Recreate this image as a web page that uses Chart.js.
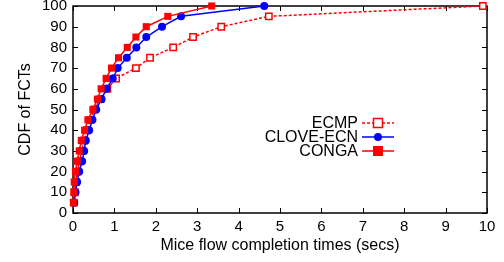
<!DOCTYPE html>
<html>
<head>
<meta charset="utf-8">
<script src="https://cdn.jsdelivr.net/npm/chart.js@4.4.1/dist/chart.umd.min.js"></script>
<style>
  html, body { margin: 0; padding: 0; background: #fff; }
  #wrap { width: 504px; height: 262px; }
</style>
</head>
<body>
<div id="wrap"><canvas id="chart" width="504" height="262"></canvas></div>
<script>
// CDF levels (percent) shared by all three series
const cdfLevels = [5, 10, 15, 20, 25, 30, 35, 40, 45, 50, 55, 60, 65, 70, 75, 80, 85, 90, 95, 100];

// completion times (secs)
const ecmpTimes  = [0.02, 0.04, 0.07, 0.11, 0.16, 0.21, 0.27, 0.34, 0.42, 0.52, 0.66, 0.83, 1.04, 1.52, 1.86, 2.42, 2.90, 3.58, 4.73, 9.90];
const cloveTimes = [0.03, 0.06, 0.10, 0.15, 0.22, 0.27, 0.31, 0.39, 0.47, 0.56, 0.69, 0.81, 0.96, 1.08, 1.30, 1.53, 1.77, 2.15, 2.61, 4.62];
const congaTimes = [0.01, 0.02, 0.03, 0.06, 0.10, 0.15, 0.20, 0.28, 0.36, 0.48, 0.59, 0.68, 0.80, 0.93, 1.10, 1.31, 1.52, 1.77, 2.29, 3.35];

const xTicks = [0, 1, 2, 3, 4, 5, 6, 7, 8, 9, 10];
const yTicks = [0, 10, 20, 30, 40, 50, 60, 70, 80, 90, 100];

const FONT = '"Liberation Sans", Arial, sans-serif';

function pairs(xs) {
    return xs.map((x, i) => ({ x: x, y: cdfLevels[i] }));
}

// box round the plot with inward ticks on all four sides
const frame = {
    id: 'frame',
    beforeDatasetsDraw(chart) {
        const { ctx, chartArea: a, scales } = chart;
        ctx.save();
        ctx.strokeStyle = '#000';
        ctx.lineWidth = 1;
        ctx.beginPath();
        xTicks.forEach(v => {
            const px = Math.round(scales.x.getPixelForValue(v)) + 0.5;
            ctx.moveTo(px, a.bottom); ctx.lineTo(px, a.bottom - 5);
            ctx.moveTo(px, a.top); ctx.lineTo(px, a.top + 5);
        });
        yTicks.forEach(v => {
            const py = Math.round(scales.y.getPixelForValue(v)) + 0.5;
            ctx.moveTo(a.left, py); ctx.lineTo(a.left + 5, py);
            ctx.moveTo(a.right, py); ctx.lineTo(a.right - 5, py);
        });
        ctx.stroke();
        ctx.lineWidth = 1.5;
        ctx.strokeRect(a.left, a.top, a.right - a.left, a.bottom - a.top);
        ctx.restore();
    }
};

// gnuplot style key: text right aligned, sample line on the right
const key = {
    id: 'key',
    afterDraw(chart) {
        const { ctx } = chart;
        const textRight = 358, x0 = 362, x1 = 394, mx = 378;
        ctx.save();
        ctx.font = '16px ' + FONT;
        ctx.textAlign = 'right';
        ctx.textBaseline = 'middle';
        [0, 1, 2].forEach(i => {
            const ds = chart.data.datasets[i];
            const y = 123 + i * 14;
            ctx.fillStyle = '#000';
            ctx.fillText(ds.label, textRight, y + 1);
            ctx.strokeStyle = ds.borderColor;
            ctx.lineWidth = ds.borderWidth;
            ctx.setLineDash(ds.borderDash || []);
            ctx.beginPath();
            ctx.moveTo(x0, y); ctx.lineTo(x1, y);
            ctx.stroke();
            ctx.setLineDash([]);
            const r = ds.pointRadius;
            if (ds.pointStyle === 'circle') {
                ctx.fillStyle = ds.pointBackgroundColor;
                ctx.beginPath();
                ctx.arc(mx, y, r, 0, Math.PI * 2);
                ctx.fill();
            } else if (ds.pointBackgroundColor === '#fff') {
                ctx.fillStyle = '#fff';
                ctx.fillRect(mx - r, y - r, 2 * r, 2 * r);
                ctx.lineWidth = ds.pointBorderWidth;
                ctx.strokeStyle = ds.pointBorderColor;
                ctx.strokeRect(mx - r, y - r, 2 * r, 2 * r);
            } else {
                ctx.fillStyle = ds.pointBackgroundColor;
                ctx.fillRect(mx - r, y - r, 2 * r, 2 * r);
            }
        });
        ctx.restore();
    }
};

var ctx = document.getElementById('chart').getContext('2d');
var chart = new Chart(ctx, {
    type: 'scatter',
    data: {
        datasets: [
            {
                label: 'ECMP',
                data: pairs(ecmpTimes),
                showLine: true,
                borderColor: '#ff0000',
                borderWidth: 1.5,
                borderDash: [3, 2],
                pointStyle: 'rect',
                pointRadius: 4.5,
                pointBorderWidth: 1.5,
                pointBorderColor: '#ff0000',
                pointBackgroundColor: '#fff',
                order: 3,
                clip: false
            },
            {
                label: 'CLOVE-ECN',
                data: pairs(cloveTimes),
                showLine: true,
                borderColor: '#0000ff',
                borderWidth: 1.5,
                pointStyle: 'circle',
                pointRadius: 4,
                pointBorderWidth: 0,
                pointBorderColor: '#0000ff',
                pointBackgroundColor: '#0000ff',
                order: 2,
                clip: false
            },
            {
                label: 'CONGA',
                data: pairs(congaTimes),
                showLine: true,
                borderColor: '#ff0000',
                borderWidth: 1.5,
                pointStyle: 'rect',
                pointRadius: 5,
                pointBorderWidth: 0,
                pointBorderColor: '#ff0000',
                pointBackgroundColor: '#ff0000',
                order: 1,
                clip: false
            }
        ]
    },
    options: {
        responsive: false,
        animation: false,
        layout: { padding: { top: 6, right: 17, left: 16, bottom: 7 } },
        plugins: {
            legend: { display: false },
            tooltip: { enabled: false }
        },
        scales: {
            x: {
                type: 'linear',
                min: 0, max: 10,
                afterBuildTicks: s => { s.ticks = xTicks.map(v => ({ value: v })); },
                afterFit: s => { s.height = 42; s.paddingLeft = 0; s.paddingRight = 0; },
                grid: { display: false, drawTicks: false },
                border: { display: false },
                ticks: { color: '#000', font: { family: FONT, size: 15 }, padding: 5, maxRotation: 0, autoSkip: false },
                title: { display: true, text: 'Mice flow completion times (secs)', color: '#000', font: { family: FONT, size: 16 }, padding: { top: 2, bottom: 0 } }
            },
            y: {
                type: 'linear',
                min: 0, max: 100,
                afterBuildTicks: s => { s.ticks = yTicks.map(v => ({ value: v })); },
                afterFit: s => { s.width = 57; s.paddingTop = 0; s.paddingBottom = 0; },
                grid: { display: false, drawTicks: false },
                border: { display: false },
                ticks: { color: '#000', font: { family: FONT, size: 15 }, padding: 6, autoSkip: false },
                title: { display: true, text: 'CDF of FCTs', color: '#000', font: { family: FONT, size: 16 }, padding: { top: 0, bottom: 0 } }
            }
        }
    },
    plugins: [frame, key]
});
</script>
</body>
</html>
